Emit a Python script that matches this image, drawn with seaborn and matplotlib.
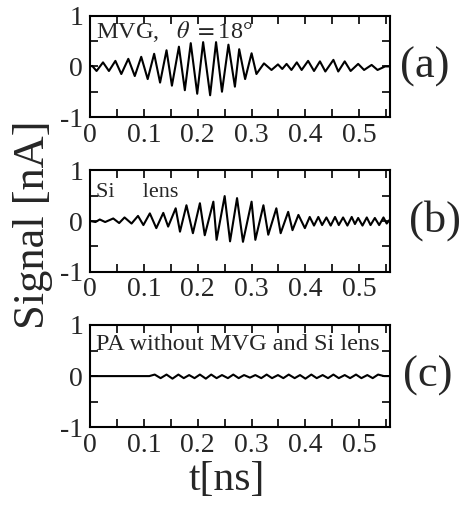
import matplotlib
matplotlib.use("Agg")
import matplotlib.pyplot as plt
import pandas as pd
import seaborn as sns
from matplotlib.ticker import FixedLocator

# ---- data ----
t_a = [0.000, 0.004, 0.012, 0.024, 0.035, 0.047, 0.058, 0.071, 0.083, 0.095, 0.107, 0.119, 0.130,
       0.142, 0.152, 0.165, 0.176, 0.187, 0.199, 0.210, 0.223, 0.234, 0.245, 0.257, 0.269, 0.277,
       0.288, 0.300, 0.309, 0.323, 0.337, 0.349, 0.357, 0.365, 0.374, 0.384, 0.393, 0.405, 0.416,
       0.427, 0.437, 0.452, 0.461, 0.473, 0.484, 0.498, 0.509, 0.523, 0.534, 0.548, 0.557]
v_a = [0.00, 0.01, -0.09, 0.08, -0.09, 0.11, -0.15, 0.15, -0.19, 0.19, -0.25, 0.25, -0.32,
       0.32, -0.38, 0.39, -0.47, 0.46, -0.54, 0.48, -0.57, 0.48, -0.50, 0.43, -0.40, 0.34,
       -0.25, 0.26, -0.15, 0.06, -0.07, 0.04, -0.05, 0.05, -0.07, 0.08, -0.07, 0.11, -0.09,
       0.10, -0.10, 0.13, -0.10, 0.10, -0.09, 0.05, -0.07, 0.03, -0.07, 0.00, 0.00]

t_b = [0.000, 0.010, 0.018, 0.028, 0.043, 0.054, 0.064, 0.077, 0.089, 0.099, 0.111, 0.123, 0.136,
       0.145, 0.159, 0.167, 0.179, 0.191, 0.204, 0.213, 0.229, 0.235, 0.250, 0.260, 0.273, 0.284,
       0.300, 0.307, 0.322, 0.331, 0.346, 0.354, 0.368, 0.376, 0.387, 0.399, 0.408, 0.416, 0.424,
       0.431, 0.439, 0.447, 0.455, 0.462, 0.470, 0.478, 0.486, 0.492, 0.498, 0.506, 0.514, 0.521,
       0.529, 0.537, 0.545, 0.551, 0.557]
v_b = [0.00, -0.02, 0.03, -0.02, 0.05, -0.04, 0.07, -0.05, 0.10, -0.08, 0.15, -0.14, 0.16,
       -0.11, 0.25, -0.21, 0.31, -0.24, 0.35, -0.28, 0.38, -0.37, 0.49, -0.40, 0.45, -0.41,
       0.38, -0.37, 0.31, -0.27, 0.25, -0.24, 0.18, -0.18, 0.12, -0.14, 0.08, -0.09, 0.08,
       -0.08, 0.07, -0.09, 0.08, -0.08, 0.07, -0.09, 0.08, -0.06, 0.06, -0.09, 0.07, -0.08,
       0.06, -0.08, 0.07, -0.05, 0.03]

t_c = [0.000, 0.070, 0.110, 0.120, 0.131, 0.142, 0.153, 0.164, 0.174, 0.184, 0.194, 0.204, 0.215,
       0.225, 0.235, 0.245, 0.256, 0.266, 0.276, 0.286, 0.297, 0.307, 0.318, 0.328, 0.338, 0.349,
       0.359, 0.369, 0.380, 0.390, 0.400, 0.411, 0.421, 0.432, 0.442, 0.452, 0.462, 0.473, 0.483,
       0.494, 0.504, 0.515, 0.525, 0.535, 0.546, 0.557]
v_c = [0.00, 0.00, 0.00, 0.03, -0.04, 0.03, -0.05, 0.03, -0.04, 0.02, -0.04, 0.03, -0.05,
       0.03, -0.04, 0.02, -0.04, 0.03, -0.04, 0.02, -0.03, 0.02, -0.04, 0.03, -0.04, 0.02,
       -0.04, 0.03, -0.04, 0.02, -0.05, 0.03, -0.04, 0.02, -0.04, 0.03, -0.04, 0.02, -0.04,
       0.03, -0.04, 0.02, -0.04, 0.03, 0.00, 0.00]

panel_notes = ["MVG,   $\\theta\\ =$18°", "Si     lens", "PA without MVG and Si lens"]
panel_tags = ["(a)", "(b)", "(c)"]
xtick_values = [0.0, 0.1, 0.2, 0.3, 0.4, 0.5]
xtick_labels = ["0", "0.1", "0.2", "0.3", "0.4", "0.5"]
xminor_values = [0.05, 0.15, 0.25, 0.35, 0.45, 0.55]
ytick_values = [-1, 0, 1]
ytick_labels = ["-1", "0", "1"]
yminor_values = [-0.5, 0.5]
x_label = "t[ns]"
y_label = "Signal [nA]"

# ---- style ----
sns.set_style("ticks")
plt.rcParams["font.family"] = ["Liberation Serif", "DejaVu Serif"]
plt.rcParams["mathtext.fontset"] = "stix"

fig = plt.figure(figsize=(4.62, 5.11), dpi=100)

rects = [[0.195, 0.771, 0.649, 0.198],
         [0.195, 0.468, 0.649, 0.199],
         [0.195, 0.164, 0.649, 0.200]]
note_pos = [(0.02, 0.782, 17.5), (0.02, 0.735, 16), (0.02, 0.755, 17.5)]
tag_x = [1.035, 1.065, 1.045]

series = [(t_a, v_a), (t_b, v_b), (t_c, v_c)]
for i, ((t, v), rect) in enumerate(zip(series, rects)):
    ax = fig.add_axes(rect)
    df = pd.DataFrame({"t": t, "v": v})
    sns.lineplot(data=df, x="t", y="v", ax=ax, color="black", linewidth=1.5,
                 estimator=None, sort=False)
    ax.set_xlim(0, 0.557)
    ax.set_ylim(-1, 1)
    ax.set_xticks(xtick_values)
    ax.set_xticklabels(xtick_labels)
    ax.xaxis.set_minor_locator(FixedLocator(xminor_values))
    ax.set_yticks(ytick_values)
    ax.set_yticklabels(ytick_labels)
    ax.yaxis.set_minor_locator(FixedLocator(yminor_values))
    ax.tick_params(which="both", direction="in", top=True, right=True,
                   length=6, width=1.2, color="black")
    ax.tick_params(axis="x", which="major", labelsize=20, pad=4)
    ax.tick_params(axis="y", which="major", labelsize=20, pad=5)
    ax.set_xlabel("")
    ax.set_ylabel("")
    for s in ax.spines.values():
        s.set_linewidth(1.5)
        s.set_color("black")
    nx, ny, fs = note_pos[i]
    ax.text(nx, ny, panel_notes[i], transform=ax.transAxes, ha="left", va="baseline",
            fontsize=fs)
    ax.text(tag_x[i], 0.5, panel_tags[i], transform=ax.transAxes, ha="left",
            va="center", fontsize=32)

fig.text(0.071, 0.56, y_label, rotation=90, ha="center", va="center", fontsize=32)
fig.text(0.49, 0.061, x_label, ha="center", va="center", fontsize=30)

fig.savefig("out.png", dpi=100)
